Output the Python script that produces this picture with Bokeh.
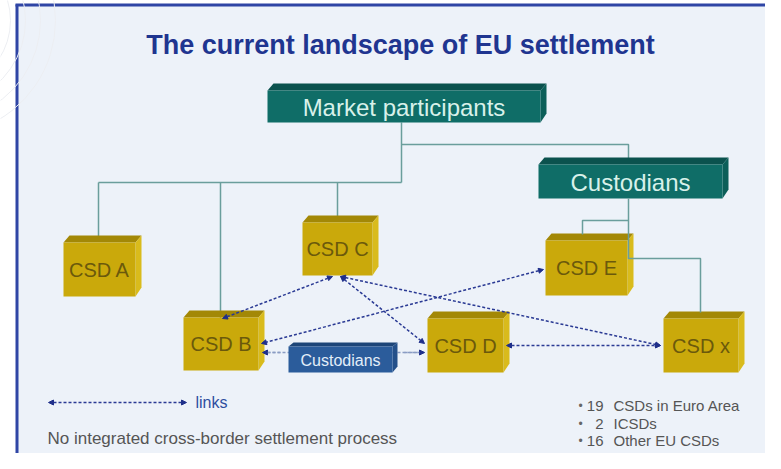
from bokeh.plotting import figure
from bokeh.models import Range1d, Arrow, NormalHead
from bokeh.embed import file_html
from bokeh.resources import INLINE
from bokeh.core.properties import value

# ---- content ----
title_text = "The current landscape of EU settlement"
hub_labels = ["Market participants", "Custodians"]
csd_names = ["CSD A", "CSD B", "CSD C", "CSD D", "CSD E", "CSD x"]
mid_custodian_label = "Custodians"
legend_label = "links"
footnote = "No integrated cross-border settlement process"
note_counts = ["19", "2", "16"]
note_texts = ["CSDs in Euro Area", "ICSDs", "Other EU CSDs"]
# links between CSDs (pairs of names)
links = [("CSD C", "CSD B"), ("CSD C", "CSD D"), ("CSD C", "CSD x"),
         ("CSD E", "CSD B"), ("CSD D", "CSD x")]
# link that runs behind the custodians box
hidden_link = ("CSD B", "CSD D")

# ---- layout (pixel positions of the diagram) ----
csd_x0 = [63, 183, 302, 427, 545, 663]
csd_x1 = [135, 258, 372, 503, 627, 738]
csd_y0 = [242, 317, 222, 318, 240, 318]
csd_y1 = [296, 370, 275, 372, 295, 372]
hub_x0 = [267, 538]
hub_x1 = [540, 722]
hub_y0 = [90, 164]
hub_y1 = [122, 198]

FONT = value("Liberation Sans")
W, H = 765, 453
p = figure(width=W, height=H, output_backend="svg", toolbar_location=None,
           x_range=Range1d(0, W), y_range=Range1d(H, 0),
           min_border=0, outline_line_color=None)
p.axis.visible = False
p.grid.visible = False
p.background_fill_color = "white"
p.border_fill_color = "white"

# slide panel
p.quad(left=[16], right=[800], top=[4], bottom=[480], fill_color="#edf2f9", line_color=None)
p.line([16.5, 16.5], [4, 480], line_color="#2f45a5", line_width=3)
p.line([15, 800], [4.5, 4.5], line_color="#2f45a5", line_width=3)
# faint arcs outside the panel
for r in [30, 45, 60, 75]:
    p.arc(x=[-60], y=[20], radius=r + 40, start_angle=-1.2, end_angle=1.2,
          line_color="#eceef2", line_width=1)


def box3d(x0, x1, y0, y1, dx, dy, front, top, side):
    p.patch([x0, x0 + dx, x1 + dx, x1], [y0, y0 - dy, y0 - dy, y0],
            fill_color=top, line_color=None)
    p.patch([x1, x1 + dx, x1 + dx, x1], [y0, y0 - dy, y1 - dy - 2, y1],
            fill_color=side, line_color=None)
    p.quad(left=[x0], right=[x1], top=[y0], bottom=[y1], fill_color=front, line_color=None)


def head():
    return NormalHead(size=5, fill_color="#1f2f8a", line_color="#1f2f8a")


# title
p.text(x=[400], y=[44], text=[title_text], text_font=FONT, text_font_style="bold",
       text_font_size="27px", text_color="#1f3590", text_align="center",
       text_baseline="middle")

# connector lines (solid)
conn = dict(line_color="#6a9e9c", line_width=1.5)
p.line([401, 401], [122, 182], **conn)
p.line([401, 628, 628], [144, 144, 158], **conn)
p.line([98, 401], [182, 182], **conn)
p.line([98, 98], [182, 236], **conn)
p.line([220, 220], [182, 318], **conn)
p.line([337, 337], [182, 216], **conn)

center = {n: ((a + b) / 2, (c + d) / 2) for n, a, b, c, d in zip(csd_names, csd_x0, csd_x1, csd_y0, csd_y1)}

# B-D link line (drawn as glyph so the custodians box covers it)
(hxa, hya), (hxb, hyb) = (262, 352), (424, 352)
p.line([hxa, hxb], [hya, hyb], line_color="#8a9cc4", line_width=1.5, line_dash="3 2")

# CSD boxes
for n, a, b, c, d in zip(csd_names, csd_x0, csd_x1, csd_y0, csd_y1):
    box3d(a, b, c, d, 6, 7, "#caa90b", "#a38806", "#d9bb1c")
p.text(x=[center[n][0] for n in csd_names], y=[center[n][1] for n in csd_names],
       text=csd_names, text_font=FONT, text_font_size="20px", text_color="#6b590c",
       text_align="center", text_baseline="middle")

# hub boxes
for a, b, c, d in zip(hub_x0, hub_x1, hub_y0, hub_y1):
    box3d(a, b, c, d, 6, 7, "#0f6d67", "#0b524e", "#0c5f59")
p.text(x=[(a + b) / 2 for a, b in zip(hub_x0, hub_x1)],
       y=[(c + d) / 2 + 1 for c, d in zip(hub_y0, hub_y1)],
       text=hub_labels, text_font=FONT, text_font_size="24px", text_color="#d8f1ea",
       text_align="center", text_baseline="middle")

# custodian connector lines
p.line([628, 628, 700, 700], [198, 258, 258, 312], **conn)
p.line([628, 582, 582], [220, 220, 234], **conn)

# link endpoints per pair
ends = {
    ("CSD C", "CSD B"): ((332, 276), (222, 318)),
    ("CSD C", "CSD D"): ((340, 276), (424, 343)),
    ("CSD C", "CSD x"): ((340, 276), (660, 345)),
    ("CSD E", "CSD B"): ((543, 269), (261, 343)),
    ("CSD D", "CSD x"): ((506, 345), (660, 345)),
}
for pair in links:
    (xa, ya), (xb, yb) = ends[pair]
    p.add_layout(Arrow(x_start=xa, y_start=ya, x_end=xb, y_end=yb,
                       line_color="#2a3a94", line_width=1.5, line_dash="3 2",
                       start=head(), end=head()))

# middle custodians box (over the B-D link)
box3d(288, 392, 346, 372, 5, 4, "#2b5c9b", "#1d4578", "#24508a")
p.text(x=[340], y=[360], text=[mid_custodian_label], text_font=FONT, text_font_size="16px",
       text_color="#e3eef9", text_align="center", text_baseline="middle")

# arrowheads of the B-D link, at the box ends only
p.add_layout(Arrow(x_start=hxa, y_start=hya, x_end=hxa + 20, y_end=hya, line_color="#8a9cc4",
                   line_width=1.5, line_dash="3 2", start=head(), end=None))
p.add_layout(Arrow(x_start=hxb - 20, y_start=hyb, x_end=hxb, y_end=hyb, line_color="#8a9cc4",
                   line_width=1.5, line_dash="3 2", start=None, end=head()))

# legend
p.add_layout(Arrow(x_start=48, y_start=402, x_end=186, y_end=402, line_color="#2a3a94",
                   line_width=1.4, line_dash="3 2", start=head(), end=head()))
p.text(x=[195], y=[402], text=[legend_label], text_font=FONT, text_font_size="16px",
       text_color="#2f4ea0", text_baseline="middle")
p.text(x=[47], y=[438], text=[footnote], text_font=FONT, text_font_size="17px",
       text_color="#555555", text_baseline="middle")

# notes
ny = [405, 423, 440]
p.text(x=[578] * 3, y=ny, text=["\u2022"] * 3, text_font=FONT, text_font_size="12px",
       text_color="#666666", text_baseline="middle")
p.text(x=[603] * 3, y=ny, text=note_counts, text_font=FONT, text_font_size="15px",
       text_color="#555555", text_align="right", text_baseline="middle")
p.text(x=[613] * 3, y=ny, text=note_texts, text_font=FONT, text_font_size="15px",
       text_color="#555555", text_baseline="middle")

open("out.html", "w").write(file_html(p, INLINE))
